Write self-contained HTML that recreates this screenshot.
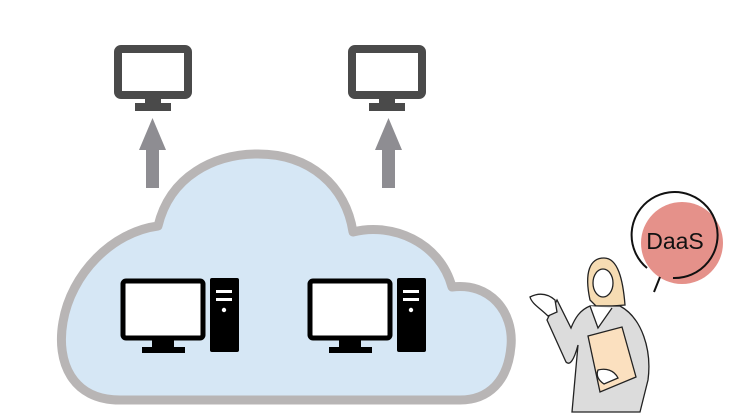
<!DOCTYPE html>
<html><head><style>
html,body{margin:0;padding:0;background:#fff;width:750px;height:416px;overflow:hidden}
</style></head><body>
<svg width="750" height="416" viewBox="0 0 750 416" xmlns="http://www.w3.org/2000/svg">
<defs>
<g id="mon">
  <rect x="4" y="4" width="70" height="46" rx="3" fill="#fff" stroke="#4a4a4a" stroke-width="8"/>
  <rect x="31" y="53" width="16" height="6" fill="#4a4a4a"/>
  <rect x="21" y="58" width="36" height="8" fill="#4a4a4a"/>
</g>
<g id="arr">
  <polygon points="0,32 13.5,0 27,32 20,32 20,70 7,70 7,32" fill="#8e8d92"/>
</g>
<g id="pc">
  <rect x="3" y="3" width="80" height="57" rx="3" fill="#fff" stroke="#000" stroke-width="5"/>
  <rect x="32" y="61" width="22" height="9" fill="#000"/>
  <rect x="22" y="69" width="43" height="6" fill="#000"/>
  <rect x="90" y="0" width="29" height="74" rx="2" fill="#000"/>
  <rect x="96" y="12" width="16" height="3" fill="#fff"/>
  <rect x="96" y="20" width="16" height="3" fill="#fff"/>
  <circle cx="104" cy="32" r="2.2" fill="#fff"/>
</g>
</defs>
<use href="#mon" x="114" y="45"/>
<use href="#mon" x="348" y="45"/>
<use href="#arr" x="139" y="118"/>
<use href="#arr" x="375" y="118"/>
<path d="M120,400 C72,400 56,362 63,322 C71,274 112,232 158,226 C170,176 214,154 258,154 C310,154 346,186 353,232 C392,222 440,242 452,287 C490,282 514,312 511,346 C508,382 488,400 460,400 Z" fill="#d6e7f5" stroke="#b8b5b5" stroke-width="9" stroke-linejoin="round"/>
<use href="#pc" x="120" y="278"/>
<use href="#pc" x="307" y="278"/>
<!-- speech bubble -->
<circle cx="682" cy="243" r="41" fill="#e5918a"/>
<path d="M647,268 A43,43 0 1 1 673,278" fill="none" stroke="#111" stroke-width="2"/>
<line x1="660" y1="277" x2="654" y2="292" stroke="#111" stroke-width="2"/>
<text x="675" y="249" font-family="Liberation Sans, sans-serif" font-size="23" text-anchor="middle" fill="#111">DaaS</text>
<!-- woman -->
<path d="M590,300 C584,272 590,258 604,258 C618,258 623,280 625,305 L612,306 L596,306 Z" fill="#f6dcb3" stroke="#222" stroke-width="1.3"/>
<ellipse cx="603" cy="283" rx="10" ry="14" fill="#fff" stroke="#222" stroke-width="1.3"/>
<path d="M547,320 L566,362 C570,366 574,360 578,345 L572,412 L640,412 L648,380 C652,350 642,318 620,306 L590,306 C580,310 575,318 571,328 L557,300 Z" fill="#dcdcdc" stroke="#222" stroke-width="1.3"/>
<path d="M590,306 L598,328 L612,308" fill="#fff" stroke="#222" stroke-width="1.3"/>
<polygon points="588,336 622,327 636,377 600,392" fill="#fbe0bf" stroke="#222" stroke-width="1.3"/>
<path d="M530,297 C540,292 548,294 555,300 L557,312 L548,316 C540,308 532,304 530,297 Z" fill="#fff" stroke="#222" stroke-width="1.3"/>
<path d="M598,370 C606,368 614,370 618,378 L604,384 C598,380 596,375 598,370 Z" fill="#fff" stroke="#222" stroke-width="1.3"/>
</svg>
</body></html>
